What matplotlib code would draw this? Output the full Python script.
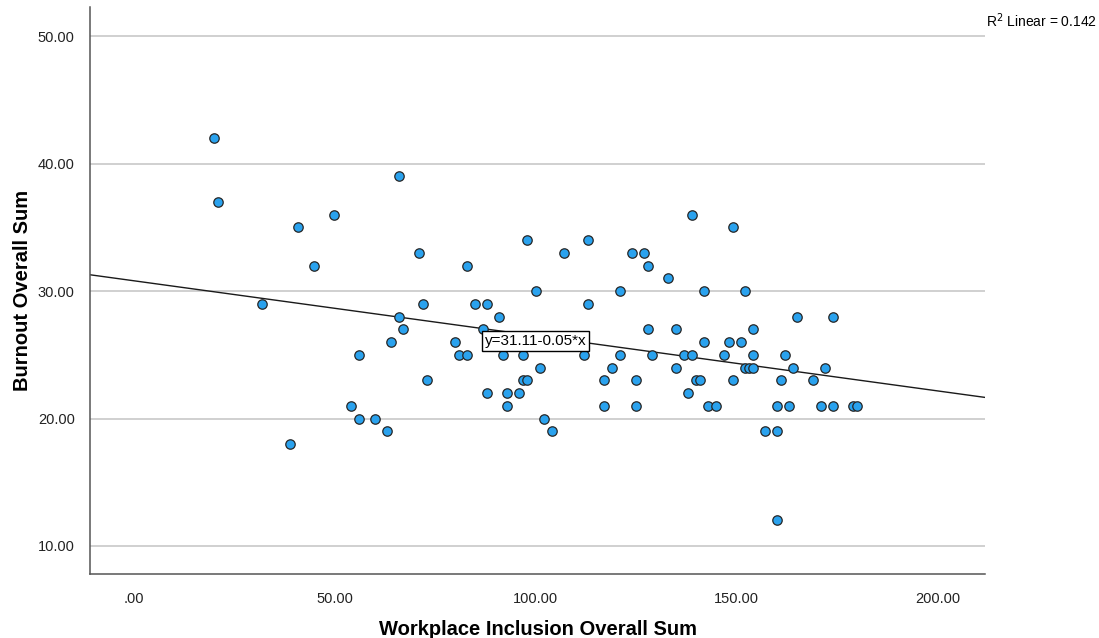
import matplotlib
matplotlib.use('Agg')
import matplotlib.pyplot as plt
import numpy as np

plt.rcParams['font.family'] = ['Liberation Sans', 'DejaVu Sans']

# Workplace Inclusion Overall Sum (x) vs Burnout Overall Sum (y)
inclusion = [
    20, 21, 50, 41, 45, 32, 64, 56, 54, 56, 60, 63, 39,
    66, 98, 113, 71, 107, 124, 127, 83, 128, 133, 100, 121,
    72, 85, 88, 113, 66, 91, 67, 87, 128, 135, 80, 81, 83,
    92, 97, 112, 121, 129, 101, 119, 135, 73, 97, 98, 117,
    125, 88, 93, 96, 93, 117, 125, 102, 104,
    139, 149, 142, 152, 165, 174, 154, 142, 148, 151, 137, 139,
    147, 154, 162, 152, 153, 154, 164, 172, 140, 141, 149, 161,
    169, 138, 143, 145, 160, 163, 171, 174, 179, 180, 157, 160, 160,
]
burnout = [
    42, 37, 36, 35, 32, 29, 26, 25, 21, 20, 20, 19, 18,
    39, 34, 34, 33, 33, 33, 33, 32, 32, 31, 30, 30,
    29, 29, 29, 29, 28, 28, 27, 27, 27, 27, 26, 25, 25,
    25, 25, 25, 25, 25, 24, 24, 24, 23, 23, 23, 23,
    23, 22, 22, 22, 21, 21, 21, 20, 19,
    36, 35, 30, 30, 28, 28, 27, 26, 26, 26, 25, 25,
    25, 25, 25, 24, 24, 24, 24, 24, 23, 23, 23, 23,
    23, 22, 21, 21, 21, 21, 21, 21, 21, 21, 19, 19, 12,
]

y_ticks = [10, 20, 30, 40, 50]
x_ticks = [0, 50, 100, 150, 200]
x_labels = ['.00', '50.00', '100.00', '150.00', '200.00']
y_labels = ['10.00', '20.00', '30.00', '40.00', '50.00']

fig = plt.figure(figsize=(10.99, 6.38), dpi=100)
ax = fig.add_axes([0.0819, 0.1003, 0.8144, 0.8887])

xmin, xmax = -10.8, 211.8
ax.set_xlim(xmin, xmax)
ax.set_ylim(7.8, 52.3)

for yt in y_ticks:
    ax.axhline(yt, color='#c4c4c4', linewidth=1.1, zorder=1)

# linear fit line
slope, intercept = np.polyfit(inclusion, burnout, 1)
xs = np.array([xmin, xmax])
ax.plot(xs, intercept + slope * xs, color='#1a1a1a', linewidth=1.0, zorder=2)

ax.scatter(inclusion, burnout, s=46, facecolor='#2aa2ee', edgecolor='#262626',
           linewidth=0.9, zorder=3)

ax.text(100, 26.1, 'y=31.11-0.05*x', fontsize=11, ha='center', va='center',
        zorder=4, bbox=dict(boxstyle='square,pad=0.2', facecolor='white',
                            edgecolor='black', linewidth=1.0))

ax.set_xticks(x_ticks)
ax.set_xticklabels(x_labels)
ax.set_yticks(y_ticks)
ax.set_yticklabels(y_labels)
ax.tick_params(axis='both', length=0, labelsize=10.5, colors='#222222')
ax.tick_params(axis='x', pad=13)
ax.tick_params(axis='y', pad=11)

for side in ['top', 'right']:
    ax.spines[side].set_visible(False)
for side in ['left', 'bottom']:
    ax.spines[side].set_color('#555555')
    ax.spines[side].set_linewidth(1.1)

ax.set_xlabel('Workplace Inclusion Overall Sum', fontsize=14.5, fontweight='bold',
              labelpad=10)
ax.set_ylabel('Burnout Overall Sum', fontsize=14.5, fontweight='bold', labelpad=4)

fig.text(0.897, 0.967, r'R$^2$ Linear = 0.142', fontsize=10, ha='left', va='center')

fig.savefig('out.png', dpi=100)
